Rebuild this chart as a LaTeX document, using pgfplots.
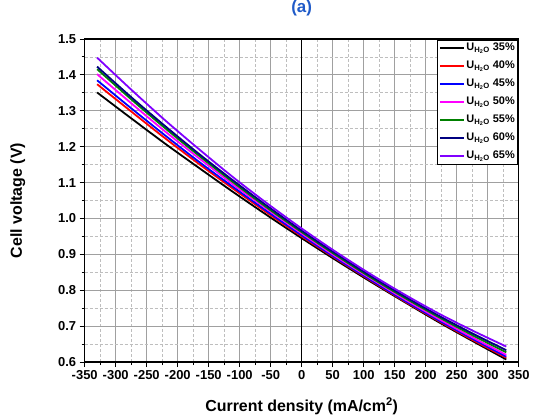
\documentclass[border=0pt]{standalone}
\usepackage{fontspec}
\setmainfont{Liberation Sans}
\usepackage{pgfplots}
\usepackage{pgfplotstable}
\pgfplotsset{compat=1.18}

\definecolor{c35}{RGB}{0,0,0}
\definecolor{c40}{RGB}{255,0,0}
\definecolor{c45}{RGB}{0,0,255}
\definecolor{c50}{RGB}{255,0,255}
\definecolor{c55}{RGB}{0,128,0}
\definecolor{c60}{RGB}{0,0,128}
\definecolor{c65}{RGB}{128,0,255}
\definecolor{titleblue}{RGB}{31,90,200}
\definecolor{majgrid}{RGB}{160,160,160}
\definecolor{mingrid}{RGB}{190,190,190}

% cell voltage vs current density, one column per steam utilisation
\pgfplotstableread{
x     u35   u40   u45   u50   u55   u60   u65
-330  1.351 1.374 1.385 1.402 1.416 1.423 1.448
-275  1.279 1.298 1.307 1.321 1.332 1.338 1.359
-220  1.208 1.223 1.231 1.242 1.251 1.257 1.273
-165  1.140 1.151 1.157 1.167 1.174 1.179 1.192
-110  1.073 1.082 1.087 1.094 1.100 1.105 1.114
-55   1.008 1.015 1.019 1.025 1.029 1.034 1.041
0     0.945 0.950 0.953 0.958 0.962 0.966 0.972
55    0.884 0.888 0.890 0.894 0.898 0.902 0.907
110   0.825 0.828 0.830 0.834 0.837 0.841 0.846
165   0.768 0.770 0.772 0.776 0.780 0.784 0.789
220   0.712 0.715 0.717 0.721 0.726 0.730 0.736
275   0.659 0.662 0.665 0.669 0.675 0.680 0.688
330   0.607 0.612 0.615 0.620 0.627 0.633 0.643
}\vdata

\begin{document}
\begin{tikzpicture}
\begin{axis}[
    scale only axis,
    width=434bp, height=323bp,
    at={(0,0)}, anchor=south west,
    xmin=-350, xmax=350,
    ymin=0.6, ymax=1.5,
    xtick={-350,-300,-250,-200,-150,-100,-50,0,50,100,150,200,250,300,350},
    ytick={0.6,0.7,0.8,0.9,1.0,1.1,1.2,1.3,1.4,1.5},
    minor x tick num=1,
    minor y tick num=1,
    grid=both,
    major grid style={majgrid, line width=0.9bp},
    minor grid style={mingrid, line width=0.7bp, dash pattern=on 3bp off 2bp},
    tick align=outside,
    xtick pos=bottom, ytick pos=left,
    major tick length=5bp, minor tick length=3bp,
    tick style={black, line width=0.9bp},
    axis line style={line width=1.1bp},
    /pgf/number format/assume math mode=true,
    tick label style={font=\fontsize{13}{13}\selectfont\bfseries},
    yticklabel style={/pgf/number format/fixed, /pgf/number format/fixed zerofill, /pgf/number format/precision=1},
    xlabel={Current density (mA/cm\textsuperscript{2})},
    ylabel={Cell voltage (V)},
    xlabel style={at={(axis description cs:0.5,-0.136)}, anchor=center, font=\fontsize{16}{16}\selectfont\bfseries},
    ylabel style={at={(axis description cs:-0.1544,0.5)}, anchor=center, font=\fontsize{16}{16}\selectfont\bfseries},
    title={(a)},
    title style={at={(axis description cs:0.5,1.077)}, anchor=center, font=\fontsize{17}{17}\selectfont\bfseries, text=titleblue},
    legend style={at={(1,1)}, anchor=north east, xshift=-0.5bp, yshift=-1bp,
        draw=black, line width=0.8bp, fill=white,
        font=\fontsize{11}{11}\selectfont\bfseries,
        inner sep=1.5bp, row sep=5bp,
        nodes={inner sep=1.5bp, text height=7.5bp, text depth=2.5bp}},
    legend cell align=left,
    legend image code/.code={\draw[#1, line width=2bp] (0bp,0bp) -- (24bp,0bp);},
    every axis plot/.append style={line width=1.8bp, smooth},
]
\draw[black, line width=0.9bp] (axis cs:0,0.6) -- (axis cs:0,1.5);

\addplot[c35] table[x=x, y=u35] {\vdata};
\addlegendentry{U\textsubscript{H\textsubscript{2}O} 35\%}
\addplot[c40] table[x=x, y=u40] {\vdata};
\addlegendentry{U\textsubscript{H\textsubscript{2}O} 40\%}
\addplot[c45] table[x=x, y=u45] {\vdata};
\addlegendentry{U\textsubscript{H\textsubscript{2}O} 45\%}
\addplot[c50] table[x=x, y=u50] {\vdata};
\addlegendentry{U\textsubscript{H\textsubscript{2}O} 50\%}
\addplot[c55] table[x=x, y=u55] {\vdata};
\addlegendentry{U\textsubscript{H\textsubscript{2}O} 55\%}
\addplot[c60] table[x=x, y=u60] {\vdata};
\addlegendentry{U\textsubscript{H\textsubscript{2}O} 60\%}
\addplot[c65] table[x=x, y=u65] {\vdata};
\addlegendentry{U\textsubscript{H\textsubscript{2}O} 65\%}
\end{axis}
\pgfresetboundingbox
\path[use as bounding box] (-84.7bp,-53bp) rectangle (448.3bp,362bp);
\end{tikzpicture}
\end{document}
